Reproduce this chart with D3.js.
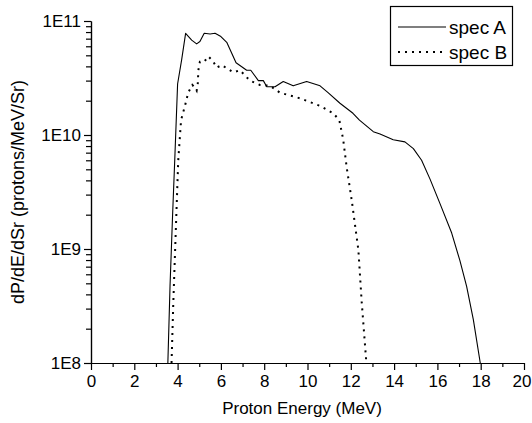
<!DOCTYPE html>
<html>
<head>
<meta charset="utf-8">
<title>Proton spectra</title>
<script src="https://d3js.org/d3.v7.min.js"></script>
<style>
    body { margin: 0; background: #fff; }
    svg { display: block; }
    .axis text { font-family: "Liberation Sans", Arial, sans-serif; font-size: 17px; fill: #000; }
    .axis path, .axis line { stroke: #000; stroke-width: 1.2px; }
    .title { font-family: "Liberation Sans", Arial, sans-serif; font-size: 17px; fill: #000; }
    .legend text { font-family: "Liberation Sans", Arial, sans-serif; font-size: 19px; fill: #000; }
</style>
</head>
<body>
<script>
// spectra: energy (MeV) and dP/dE/dSr
var energyA = [3.55, 3.65, 3.76, 3.88, 4.0, 4.19, 4.37, 4.65, 4.88, 5.03, 5.23, 5.5, 5.73,
               6.0, 6.27, 6.7, 7.19, 7.38, 7.73, 7.96, 8.12, 8.5, 8.88, 9.34, 9.96, 10.58,
               10.95, 11.5, 12.1, 12.4, 13.04, 13.35, 13.96, 14.5, 14.89, 15.27, 15.66,
               16.12, 16.66, 17.04, 17.35, 17.66, 17.98];
var specA   = [1e8, 4.7e8, 1.8e9, 6.9e9, 2.8e10, 4.6e10, 7.8e10, 6.8e10, 6.3e10, 6.6e10, 7.8e10, 7.7e10, 7.8e10,
               7.3e10, 6.5e10, 4.3e10, 3.7e10, 3.7e10, 3.0e10, 3.0e10, 2.65e10, 2.65e10, 2.95e10, 2.7e10, 2.95e10, 2.7e10,
               2.35e10, 1.9e10, 1.55e10, 1.35e10, 1.07e10, 1.02e10, 9.1e9, 8.7e9, 7.6e9, 6.0e9, 4.1e9,
               2.5e9, 1.38e9, 7.9e8, 4.7e8, 2.4e8, 1e8];

var energyB = [3.72, 3.8, 3.88, 3.96, 4.03, 4.16, 4.34, 4.49, 4.68, 4.8, 4.88, 4.93, 4.96, 5.03,
               5.23, 5.42, 5.65, 5.8, 6.04, 6.57, 6.88, 7.34, 7.8, 8.27, 8.73, 9.65, 10.58,
               11.19, 11.47, 11.65, 11.81, 12.04, 12.35, 12.5, 12.72];
var specB   = [1e8, 3.3e8, 9.1e8, 2.5e9, 6.0e9, 1.35e10, 1.8e10, 2.35e10, 2.75e10, 2.6e10, 2.45e10, 2.8e10, 3.7e10, 4.4e10,
               4.4e10, 4.9e10, 4.4e10, 3.9e10, 4.1e10, 3.55e10, 3.7e10, 3.0e10, 2.75e10, 2.7e10, 2.35e10, 2.1e10, 1.8e10,
               1.55e10, 1.35e10, 9.1e9, 5.2e9, 2.7e9, 9.8e8, 3.5e8, 1e8];

var xMajor = [0, 2, 4, 6, 8, 10, 12, 14, 16, 18, 20];
var xMinor = [1, 3, 5, 7, 9, 11, 13, 15, 17, 19];
var yMajor = [1e8, 1e9, 1e10, 1e11];
var legendNames = ["spec A", "spec B"];

var width = 532, height = 423;

var svg = d3.select("body").append("svg")
    .attr("width", width)
    .attr("height", height);

svg.append("rect").attr("width", width).attr("height", height).attr("fill", "#fff");

var x = d3.scaleLinear().domain([0, 20]).range([91, 524]);
var y = d3.scaleLog().domain([1e8, 1e11]).range([363, 21]);

// minor log ticks 2..9 x 10^n
var yMinor = [];
[1e8, 1e9, 1e10].forEach(function(d) {
    for (var k = 2; k <= 9; k++) yMinor.push(d * k);
});

// bottom axis
svg.append("g")
    .attr("class", "axis")
    .attr("transform", "translate(0,363)")
    .call(d3.axisBottom(x).tickValues(xMinor).tickSize(4).tickSizeOuter(0).tickFormat(""));

var xAxis = svg.append("g")
    .attr("class", "axis")
    .attr("transform", "translate(0,363)")
    .call(d3.axisBottom(x).tickValues(xMajor).tickSize(7).tickSizeOuter(0).tickPadding(5).tickFormat(d3.format("d")));

// last label sits at the window edge, keep it inside
xAxis.selectAll(".tick text")
    .filter(function(d) { return d == 20; })
    .attr("text-anchor", "end")
    .attr("x", 7);

// left axis
svg.append("g")
    .attr("class", "axis")
    .attr("transform", "translate(91,0)")
    .call(d3.axisLeft(y).tickValues(yMinor).tickSize(5).tickSizeOuter(0).tickFormat(""));

svg.append("g")
    .attr("class", "axis")
    .attr("transform", "translate(91,0)")
    .call(d3.axisLeft(y).tickValues(yMajor).tickSize(7).tickSizeOuter(0).tickPadding(3)
        .tickFormat(function(d) { return "1E" + Math.round(Math.log10(d)); }));

// axis titles
svg.append("text")
    .attr("class", "title")
    .attr("x", 302)
    .attr("y", 414)
    .attr("text-anchor", "middle")
    .text("Proton Energy (MeV)");

svg.append("text")
    .attr("class", "title")
    .attr("transform", "translate(24,192) rotate(-90)")
    .attr("text-anchor", "middle")
    .style("font-size", "18px")
    .text("dP/dE/dSr (protons/MeV/Sr)");

// curves
var line = d3.line()
    .x(function(d) { return x(d[0]); })
    .y(function(d) { return y(d[1]); });

svg.append("path")
    .datum(d3.zip(energyA, specA))
    .attr("d", line)
    .attr("fill", "none")
    .attr("stroke", "#000")
    .attr("stroke-width", 1.1)
    .attr("stroke-linejoin", "round");

svg.append("path")
    .datum(d3.zip(energyB, specB))
    .attr("d", line)
    .attr("fill", "none")
    .attr("stroke", "#000")
    .attr("stroke-width", 2)
    .attr("stroke-dasharray", "2,5");

// legend
var legend = svg.append("g").attr("class", "legend");

legend.append("rect")
    .attr("x", 390.5).attr("y", 6.5)
    .attr("width", 122).attr("height", 59)
    .attr("fill", "#fff")
    .attr("stroke", "#000")
    .attr("stroke-width", 1.2);

legendNames.forEach(function(name, i) {
    var ly = 27 + i * 25;
    legend.append("line")
        .attr("x1", 398).attr("x2", 446)
        .attr("y1", ly).attr("y2", ly)
        .attr("stroke", "#000")
        .attr("stroke-width", i == 0 ? 1.1 : 2)
        .attr("stroke-dasharray", i == 0 ? null : "2,5");
    legend.append("text")
        .attr("x", 449)
        .attr("y", ly + 7)
        .text(name);
});
</script>
</body>
</html>
